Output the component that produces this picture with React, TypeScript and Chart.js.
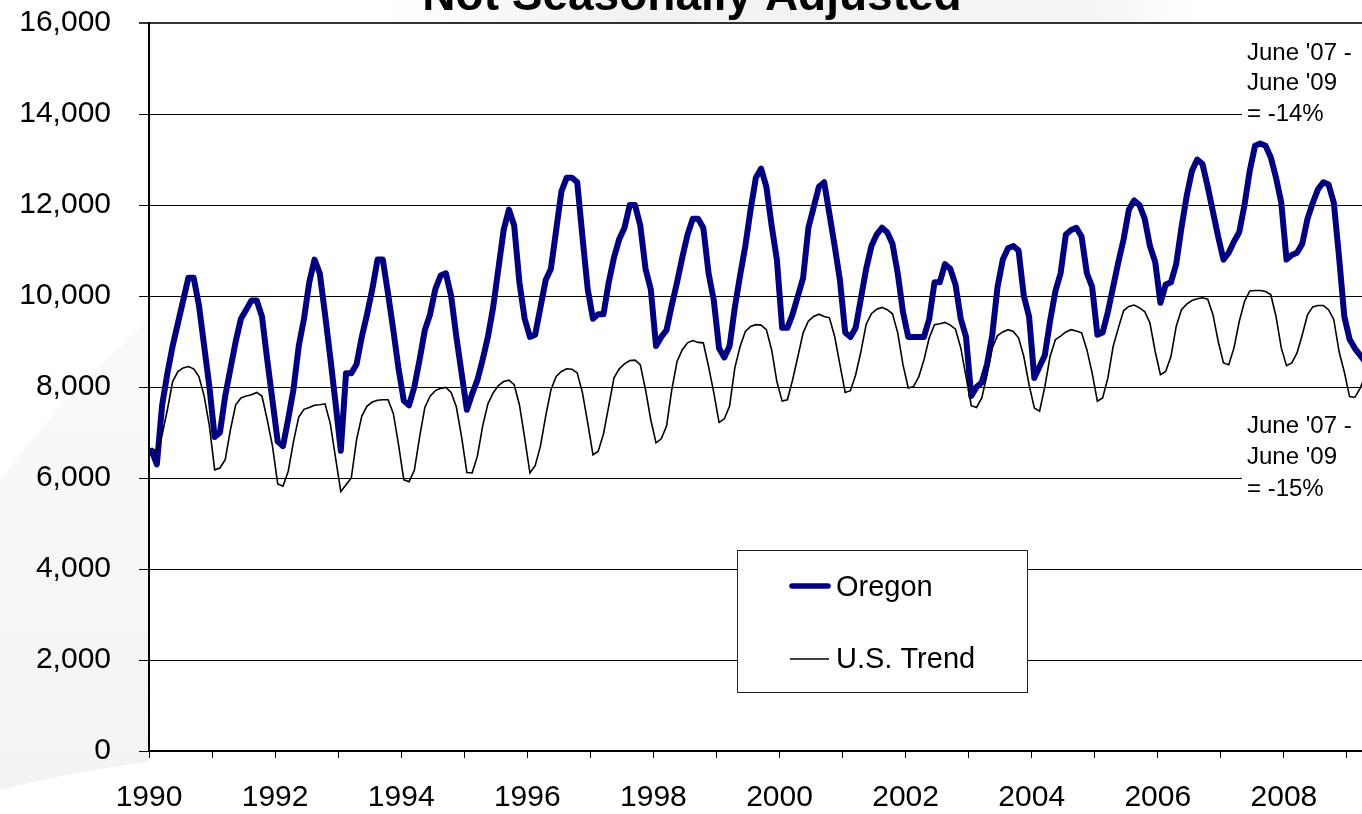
import React, { useEffect, useRef } from 'react';
import { Chart, registerables } from 'chart.js';

Chart.register(...registerables);

// ---- data -------------------------------------------------------------
const startYear = 1990;

// Oregon, monthly, Jan 1990 .. Jun 2009 (not seasonally adjusted)
const oregon = [
  6600, 6300, 7600, 8300, 8900, 9400, 9900, 10400, 10400, 9800, 8900, 8000, // 1990
  6900, 7000, 7800, 8400, 9000, 9500, 9700, 9900, 9900, 9550, 8600, 7700, // 1991
  6800, 6700, 7300, 7950, 8900, 9500, 10300, 10800, 10500, 9600, 8650, 7650, // 1992
  6600, 8300, 8300, 8500, 9100, 9600, 10150, 10800, 10800, 10050, 9250, 8400, // 1993
  7700, 7600, 8000, 8600, 9250, 9600, 10150, 10450, 10500, 10000, 9100, 8300, // 1994
  7500, 7850, 8150, 8600, 9100, 9750, 10600, 11450, 11900, 11550, 10300, 9500, // 1995
  9100, 9150, 9750, 10350, 10600, 11450, 12300, 12600, 12600, 12500, 11300, 10150, // 1996
  9500, 9600, 9600, 10300, 10850, 11250, 11500, 12000, 12000, 11550, 10600, 10150, // 1997
  8900, 9100, 9250, 9800, 10300, 10850, 11350, 11700, 11700, 11500, 10500, 9900, // 1998
  8850, 8650, 8900, 9750, 10450, 11100, 11900, 12600, 12800, 12400, 11550, 10800, // 1999
  9300, 9300, 9600, 10000, 10400, 11500, 11950, 12400, 12500, 11800, 11100, 10350, // 2000
  9200, 9100, 9300, 9950, 10600, 11100, 11350, 11500, 11400, 11150, 10500, 9650, // 2001
  9100, 9100, 9100, 9100, 9500, 10300, 10300, 10700, 10600, 10250, 9500, 9100, // 2002
  7800, 8000, 8100, 8500, 9150, 10200, 10800, 11050, 11100, 11000, 10000, 9550, // 2003
  8200, 8450, 8700, 9450, 10100, 10500, 11350, 11450, 11500, 11300, 10500, 10200, // 2004
  9150, 9200, 9650, 10200, 10750, 11250, 11900, 12100, 12000, 11700, 11100, 10750, // 2005
  9850, 10250, 10300, 10700, 11500, 12200, 12750, 13000, 12900, 12400, 11850, 11300, // 2006
  10800, 10950, 11200, 11400, 12000, 12750, 13300, 13350, 13300, 13050, 12600, 12050, // 2007
  10800, 10900, 10950, 11150, 11700, 12050, 12350, 12500, 12450, 12050, 10850, 9550, // 2008
  9050, 8850, 8700, 8550, 8450, 8400, // 2009
];

// U.S. trend, monthly, same months
const usTrend = [
  6620, 6620, 6950, 7500, 8120, 8340, 8420, 8450, 8400, 8230, 7800, 7140, // 1990
  6180, 6220, 6400, 7060, 7610, 7760, 7800, 7830, 7880, 7800, 7280, 6700, // 1991
  5870, 5820, 6150, 6800, 7340, 7510, 7550, 7600, 7610, 7630, 7200, 6450, // 1992
  5700, 5850, 6000, 6840, 7360, 7580, 7670, 7710, 7720, 7720, 7420, 6730, // 1993
  5960, 5920, 6170, 6900, 7550, 7800, 7920, 7970, 7990, 7880, 7560, 6900, // 1994
  6120, 6110, 6480, 7140, 7630, 7870, 8030, 8120, 8150, 8050, 7610, 6880, // 1995
  6110, 6270, 6700, 7360, 7940, 8230, 8340, 8400, 8390, 8310, 7870, 7210, // 1996
  6510, 6590, 6970, 7580, 8200, 8400, 8510, 8580, 8590, 8490, 7940, 7280, // 1997
  6770, 6860, 7140, 7940, 8560, 8820, 8970, 9020, 8980, 8970, 8450, 7870, // 1998
  7220, 7300, 7580, 8420, 8890, 9220, 9330, 9370, 9360, 9260, 8820, 8120, // 1999
  7690, 7720, 8160, 8670, 9190, 9450, 9550, 9600, 9550, 9520, 9110, 8490, // 2000
  7880, 7920, 8270, 8780, 9380, 9610, 9710, 9750, 9700, 9610, 9190, 8490, // 2001
  7980, 8010, 8220, 8600, 9080, 9370, 9390, 9420, 9360, 9270, 8860, 8230, // 2002
  7590, 7550, 7760, 8270, 8860, 9130, 9210, 9260, 9220, 9080, 8670, 8050, // 2003
  7540, 7470, 8010, 8670, 9040, 9120, 9210, 9260, 9230, 9190, 8820, 8310, // 2004
  7690, 7760, 8200, 8890, 9300, 9680, 9770, 9800, 9740, 9660, 9410, 8780, // 2005
  8270, 8340, 8670, 9330, 9700, 9820, 9900, 9940, 9960, 9930, 9590, 9000, // 2006
  8530, 8490, 8860, 9440, 9880, 10110, 10120, 10120, 10100, 10030, 9550, 8860, // 2007
  8470, 8530, 8750, 9150, 9590, 9760, 9790, 9790, 9700, 9480, 8780, 8330, // 2008
  7790, 7770, 7970, 8250, 8450, 8550, // 2009
];

const yearTicks = [
  1990, 1991, 1992, 1993, 1994, 1995, 1996, 1997, 1998, 1999,
  2000, 2001, 2002, 2003, 2004, 2005, 2006, 2007, 2008, 2009,
];
const yTicksMax = 16000;
const yTickStep = 2000;

const seriesNames = ['Oregon', 'U.S. Trend'];
const titleText = 'Not Seasonally Adjusted';
const noteOregon = ["June '07 -", "June '09", '= -14%'];
const noteUS = ["June '07 -", "June '09", '= -15%'];

// ---- styling ----------------------------------------------------------
const FONT = "'Liberation Sans', Arial, Helvetica, sans-serif";
const NAVY = '#000080';

const toXY = (vals: number[]) =>
  vals.map((v, i) => ({ x: startYear + (i + 0.5) / 12, y: v }));

const decorPlugin = {
  id: 'decor',
  beforeDraw(chart: any) {
    const { ctx, width, height, chartArea } = chart;
    ctx.save();
    ctx.fillStyle = '#ffffff';
    ctx.fillRect(0, 0, width, height);

    // faint template swoosh behind title
    const g = ctx.createLinearGradient(380, 0, 1200, 0);
    g.addColorStop(0, 'rgba(240,243,242,0)');
    g.addColorStop(0.3, 'rgba(240,243,242,1)');
    g.addColorStop(0.85, 'rgba(242,245,244,1)');
    g.addColorStop(1, 'rgba(242,245,244,0)');
    ctx.fillStyle = g;
    ctx.fillRect(380, 0, 820, chartArea.top);

    // faint swoosh on the left
    ctx.beginPath();
    ctx.moveTo(chartArea.left, 320);
    ctx.quadraticCurveTo(60, 400, 0, 480);
    ctx.lineTo(0, 790);
    ctx.quadraticCurveTo(70, 772, chartArea.left, 762);
    ctx.closePath();
    const g2 = ctx.createLinearGradient(0, 320, 0, 800);
    g2.addColorStop(0, 'rgba(240,242,241,0.4)');
    g2.addColorStop(1, 'rgba(236,239,238,0.7)');
    ctx.fillStyle = g2;
    ctx.fill();

    ctx.fillStyle = '#ffffff';
    ctx.fillRect(chartArea.left, chartArea.top, chartArea.right - chartArea.left, chartArea.bottom - chartArea.top);
    ctx.restore();
  },
  afterDatasetsDraw(chart: any) {
    const { ctx } = chart;
    ctx.save();
    // annotation boxes
    const drawNote = (lines: string[], top: number, ys: number[]) => {
      ctx.fillStyle = '#ffffff';
      ctx.fillRect(1242, top, 130, 96);
      ctx.fillStyle = '#000000';
      ctx.font = `24px ${FONT}`;
      ctx.textAlign = 'left';
      ctx.textBaseline = 'middle';
      lines.forEach((t, k) => ctx.fillText(t, 1247, ys[k]));
    };
    drawNote(noteOregon, 36, [53, 83, 114]);
    drawNote(noteUS, 408, [426, 457, 489]);

    // legend box
    ctx.fillStyle = '#ffffff';
    ctx.fillRect(737, 550, 291, 143);
    ctx.strokeStyle = '#222222';
    ctx.lineWidth = 1;
    ctx.strokeRect(737.5, 550.5, 290, 142);

    const ds = chart.data.datasets;
    ctx.lineCap = 'round';
    ctx.strokeStyle = ds[0].borderColor;
    ctx.lineWidth = 5.5;
    ctx.beginPath();
    ctx.moveTo(792, 586);
    ctx.lineTo(828, 586);
    ctx.stroke();

    ctx.lineCap = 'butt';
    ctx.strokeStyle = ds[1].borderColor;
    ctx.lineWidth = 1.5;
    ctx.beginPath();
    ctx.moveTo(790, 659);
    ctx.lineTo(829, 659);
    ctx.stroke();

    ctx.fillStyle = '#000000';
    ctx.font = `29px ${FONT}`;
    ctx.textAlign = 'left';
    ctx.textBaseline = 'middle';
    ctx.fillText(ds[0].label, 836, 588);
    ctx.fillText(ds[1].label, 836, 660);
    ctx.restore();
  },
  afterDraw(chart: any) {
    const { ctx } = chart;
    ctx.save();
    ctx.fillStyle = '#000000';
    ctx.font = `bold 46px ${FONT}`;
    ctx.textAlign = 'center';
    ctx.textBaseline = 'alphabetic';
    ctx.fillText(titleText, 692, 10);
    ctx.restore();
  },
};

export default function App() {
  const canvasRef = useRef<HTMLCanvasElement | null>(null);

  useEffect(() => {
    document.body.style.margin = '0';
    const canvas = canvasRef.current;
    if (!canvas) return;
    const chart = new Chart(canvas, {
      type: 'line',
      data: {
        datasets: [
          {
            label: seriesNames[0],
            data: toXY(oregon),
            borderColor: NAVY,
            backgroundColor: NAVY,
            borderWidth: 6,
            pointRadius: 0,
            tension: 0,
            borderJoinStyle: 'round',
            borderCapStyle: 'round',
            order: 1,
          },
          {
            label: seriesNames[1],
            data: toXY(usTrend),
            borderColor: '#000000',
            backgroundColor: '#000000',
            borderWidth: 1.6,
            pointRadius: 0,
            tension: 0,
            order: 0,
          },
        ],
      },
      options: {
        responsive: false,
        animation: false,
        devicePixelRatio: 1,
        events: [],
        layout: { padding: { top: 23, right: 0, left: 0, bottom: 0 } },
        plugins: {
          legend: { display: false },
          title: { display: false },
          tooltip: { enabled: false },
        },
        scales: {
          x: {
            type: 'linear',
            min: startYear,
            max: 1990 + 1213 / 63.05,
            afterBuildTicks: (scale: any) => {
              scale.ticks = yearTicks.map((v) => ({ value: v }));
            },
            afterFit: (scale: any) => {
              scale.height = 63;
              scale.paddingLeft = 0;
              scale.paddingRight = 0;
            },
            ticks: {
              autoSkip: false,
              maxRotation: 0,
              minRotation: 0,
              padding: 22,
              color: '#000000',
              font: { family: FONT, size: 30 },
              callback: (v: any) => (Number(v) % 2 === 0 ? String(v) : ''),
            },
            grid: {
              drawOnChartArea: false,
              drawTicks: true,
              tickLength: 7,
              color: '#000000',
              lineWidth: 1,
            },
            border: { display: true, color: '#000000', width: 2 },
          },
          y: {
            min: 0,
            max: yTicksMax,
            afterFit: (scale: any) => {
              scale.width = 149;
              scale.paddingTop = 0;
              scale.paddingBottom = 0;
            },
            ticks: {
              stepSize: yTickStep,
              padding: 28,
              color: '#000000',
              font: { family: FONT, size: 30 },
              callback: (v: any) => Number(v).toLocaleString('en-US'),
            },
            grid: {
              drawTicks: true,
              tickLength: 10,
              color: (c: any) => (c.tick && c.tick.value === yTicksMax ? '#333333' : '#000000'),
              lineWidth: (c: any) => (c.tick && c.tick.value === yTicksMax ? 2 : 1),
            },
            border: { display: true, color: '#000000', width: 2 },
          },
        },
      },
      plugins: [decorPlugin],
    } as any);
    return () => chart.destroy();
  }, []);

  return (
    <canvas
      ref={canvasRef}
      width={1362}
      height={814}
      style={{ display: 'block', width: 1362, height: 814 }}
    />
  );
}
